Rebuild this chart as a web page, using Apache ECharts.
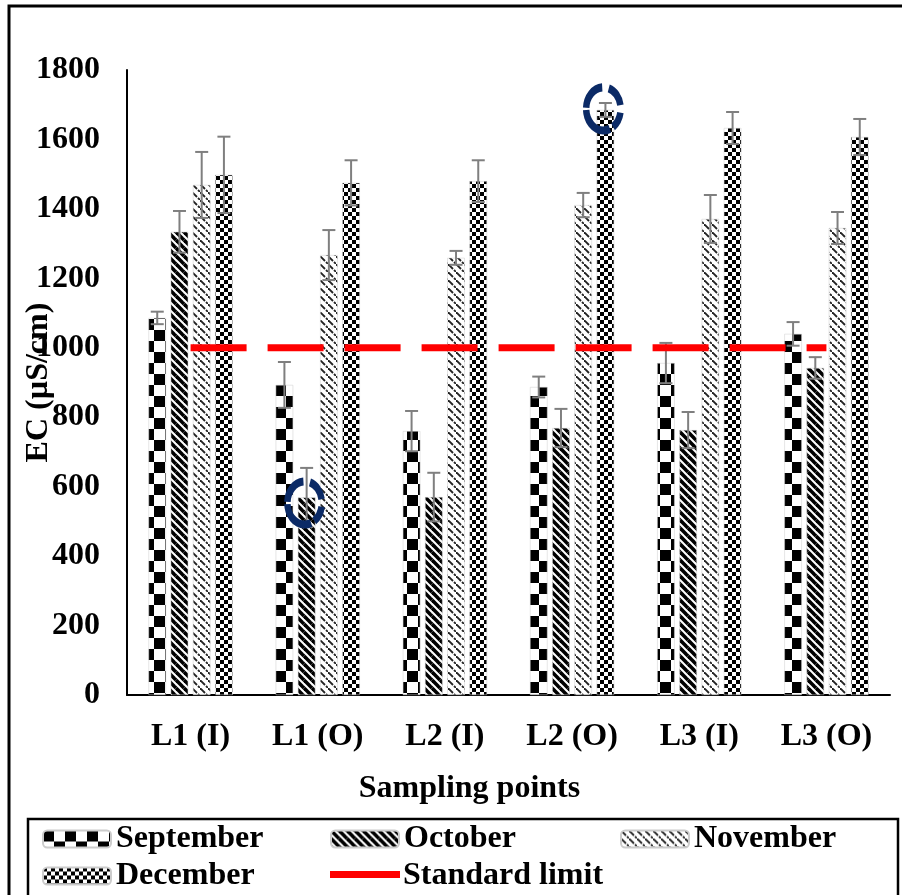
<!DOCTYPE html>
<html><head><meta charset="utf-8">
<script src="https://cdn.jsdelivr.net/npm/echarts@6/dist/echarts.min.js"></script>
<style>html,body{margin:0;padding:0;background:#fff}#c{width:902px;height:895px}</style>
</head><body><div id="c"></div>
<script>
// ---- data ----
const categories = ['L1 (I)', 'L1 (O)', 'L2 (I)', 'L2 (O)', 'L3 (I)', 'L3 (O)'];
const months = ['September', 'October', 'November', 'December'];
const september = [1086, 893, 760, 887, 956, 1040];
const october   = [1334, 569, 570, 769, 763, 942];
const november  = [1469, 1267, 1259, 1411, 1371, 1345];
const december  = [1498, 1475, 1480, 1685, 1633, 1607];
const septemberErr = [18, 66, 58, 30, 58, 34];
const octoberErr   = [60, 85, 70, 55, 52, 31];
const novemberErr  = [95, 72, 20, 35, 69, 46];
const decemberErr  = [110, 65, 60, 20, 46, 52];
const standardLimit = [1000, 1000, 1000, 1000, 1000, 1000];
const yTicks = [0, 200, 400, 600, 800, 1000, 1200, 1400, 1600, 1800];
// highlighted points (category index, month index, value)
const markers = [[1, 1, 553], [3, 3, 1688]];

const seriesValues = [september, october, november, december];
const seriesErrs = [septemberErr, octoberErr, novemberErr, decemberErr];

// ---- patterns ----
function pat(w, h, draw) {
  const c = document.createElement('canvas');
  c.width = w; c.height = h;
  const g = c.getContext('2d');
  g.fillStyle = '#fff'; g.fillRect(0, 0, w, h);
  draw(g, w, h);
  return { image: c, repeat: 'repeat' };
}
const patSep = pat(22, 22, (g) => { g.fillStyle = '#000'; g.fillRect(0, 0, 11, 11); g.fillRect(11, 11, 11, 11); });
const patOct = pat(8, 8, (g) => {
  g.strokeStyle = '#000'; g.lineWidth = 3.6;
  [[-8, -8], [0, 0], [8, 8], [0, -8], [-8, 0], [8, 0], [0, 8]].forEach(([dx, dy]) => {
    g.beginPath(); g.moveTo(dx, dy); g.lineTo(dx + 8, dy + 8); g.stroke();
  });
});
const patNov = pat(8, 8, (g) => {
  g.strokeStyle = '#222'; g.lineWidth = 1.8;
  g.beginPath(); g.moveTo(0, 0); g.lineTo(5, 5); g.stroke();
  g.beginPath(); g.moveTo(6, 6); g.lineTo(8, 8); g.stroke();
});
const patDec = pat(8, 8, (g) => { g.fillStyle = '#000'; g.fillRect(0, 0, 4, 4); g.fillRect(4, 4, 4, 4); });
const patterns = [patSep, patOct, patNov, patDec];

const FONT = "'Liberation Serif', 'Times New Roman', serif";
const FS = 32;
const BAR_W = 17.5, BAR_GAP = 0.27;
function barOffset(i) {
  const step = BAR_W * (1 + BAR_GAP);
  const total = BAR_W * 4 + BAR_W * BAR_GAP * 3;
  return -total / 2 + BAR_W / 2 + i * step;
}

const barSeries = months.map((m, i) => ({
  name: m, type: 'bar', data: seriesValues[i], barWidth: BAR_W, barGap: (BAR_GAP * 100) + '%',
  itemStyle: { color: patterns[i], borderColor: '#ccc', borderWidth: 0.5 },
  z: 2
}));

const errData = [];
seriesValues.forEach((vals, mi) => vals.forEach((v, ci) => errData.push([ci, mi, v, seriesErrs[mi][ci]])));

const errSeries = {
  type: 'custom', name: 'err', data: errData, encode: { x: 0, y: 2 }, z: 4, silent: true,
  renderItem: (params, api) => {
    const ci = api.value(0), mi = api.value(1), v = api.value(2), e = api.value(3);
    const x = api.coord([ci, v])[0] + barOffset(mi);
    const yt = api.coord([ci, v + e])[1], yb = api.coord([ci, v - e])[1];
    const st = { stroke: '#7f7f7f', lineWidth: 2 };
    return { type: 'group', children: [
      { type: 'line', shape: { x1: x, y1: yt, x2: x, y2: yb }, style: st },
      { type: 'line', shape: { x1: x - 6.5, y1: yt, x2: x + 6.5, y2: yt }, style: st },
      { type: 'line', shape: { x1: x - 6.5, y1: yb, x2: x + 6.5, y2: yb }, style: st }
    ] };
  }
};

const deg = Math.PI / 180;
const ringArcs = [[10, 72], [94, 177], [183, 292], [304, 350]];
const ringSeries = {
  type: 'custom', name: 'ring', data: markers, encode: { x: 0, y: 2 }, z: 6, silent: true,
  renderItem: (params, api) => {
    const ci = api.value(0), mi = api.value(1), v = api.value(2);
    const p = api.coord([ci, v]);
    return { type: 'group', x: p[0] + barOffset(mi) - 2, y: p[1], scaleY: 1.25,
      children: ringArcs.map(([a1, a2]) => ({
        type: 'sector',
        shape: { cx: 0, cy: 0, r0: 14, r: 20.5, startAngle: -a2 * deg, endAngle: -a1 * deg, clockwise: true },
        style: { fill: '#0b2a66' }
      })) };
  }
};

const lineSeries = {
  name: 'Standard limit', type: 'line', data: standardLimit, symbol: 'none', showSymbol: false, z: 5,
  lineStyle: { color: '#ff0000', width: 7, type: [56, 21], cap: 'butt' },
  itemStyle: { color: '#ff0000' }
};

const legText = { fontFamily: FONT, fontWeight: 'bold', fontSize: FS, color: '#000' };
function leg(name, left, top, extra) {
  return Object.assign({ data: [name], left, top, padding: 0, itemWidth: 68, itemHeight: 17, itemGap: 0,
    selectedMode: false, textStyle: legText }, extra || {});
}

const chart = echarts.init(document.getElementById('c'), null, { renderer: 'canvas' });
chart.setOption({
  animation: false,
  backgroundColor: '#fff',
  grid: { left: 127, right: 12, top: 70, bottom: 200, containLabel: false, outerBoundsMode: 'none' },
  xAxis: {
    type: 'category', data: categories,
    axisLine: { lineStyle: { color: '#000', width: 2 } },
    axisTick: { show: false },
    axisLabel: { fontFamily: FONT, fontWeight: 'bold', fontSize: FS, color: '#000', margin: 26 },
    name: 'Sampling points', nameLocation: 'middle', nameGap: 78, nameMoveOverlap: false,
    nameTextStyle: { fontFamily: FONT, fontWeight: 'bold', fontSize: FS, color: '#000', padding: [0, 78, 0, 0] }
  },
  yAxis: {
    type: 'value', min: 0, max: yTicks[yTicks.length - 1], interval: yTicks[1] - yTicks[0],
    axisLine: { show: true, lineStyle: { color: '#000', width: 2 } },
    axisTick: { show: false },
    splitLine: { show: false },
    axisLabel: { fontFamily: FONT, fontWeight: 'bold', fontSize: FS, color: '#000', margin: 27,
      formatter: (v) => String(v) },
    name: 'EC (µS/cm)', nameLocation: 'middle', nameGap: 72, nameRotate: 90, nameMoveOverlap: false,
    nameTextStyle: { fontFamily: FONT, fontWeight: 'bold', fontSize: FS, color: '#000' }
  },
  legend: [
    leg('September', 42, 823), leg('October', 330, 823), leg('November', 620, 823),
    leg('December', 42, 860), leg('Standard limit', 330, 860, { icon: 'rect', itemStyle: { opacity: 0 } })
  ],
  graphic: [
    { type: 'rect', z: -1, shape: { x: 9, y: 6, width: 1000, height: 1000 }, style: { fill: 'none', stroke: '#000', lineWidth: 3 } },
    { type: 'rect', z: -1, shape: { x: 28, y: 819, width: 870, height: 120 }, style: { fill: 'none', stroke: '#000', lineWidth: 2.5 } },
    { type: 'rect', z: 10, shape: { x: 330, y: 871, width: 70, height: 7 }, style: { fill: '#ff0000' } }
  ],
  series: [...barSeries, errSeries, lineSeries, ringSeries]
});
</script></body></html>
